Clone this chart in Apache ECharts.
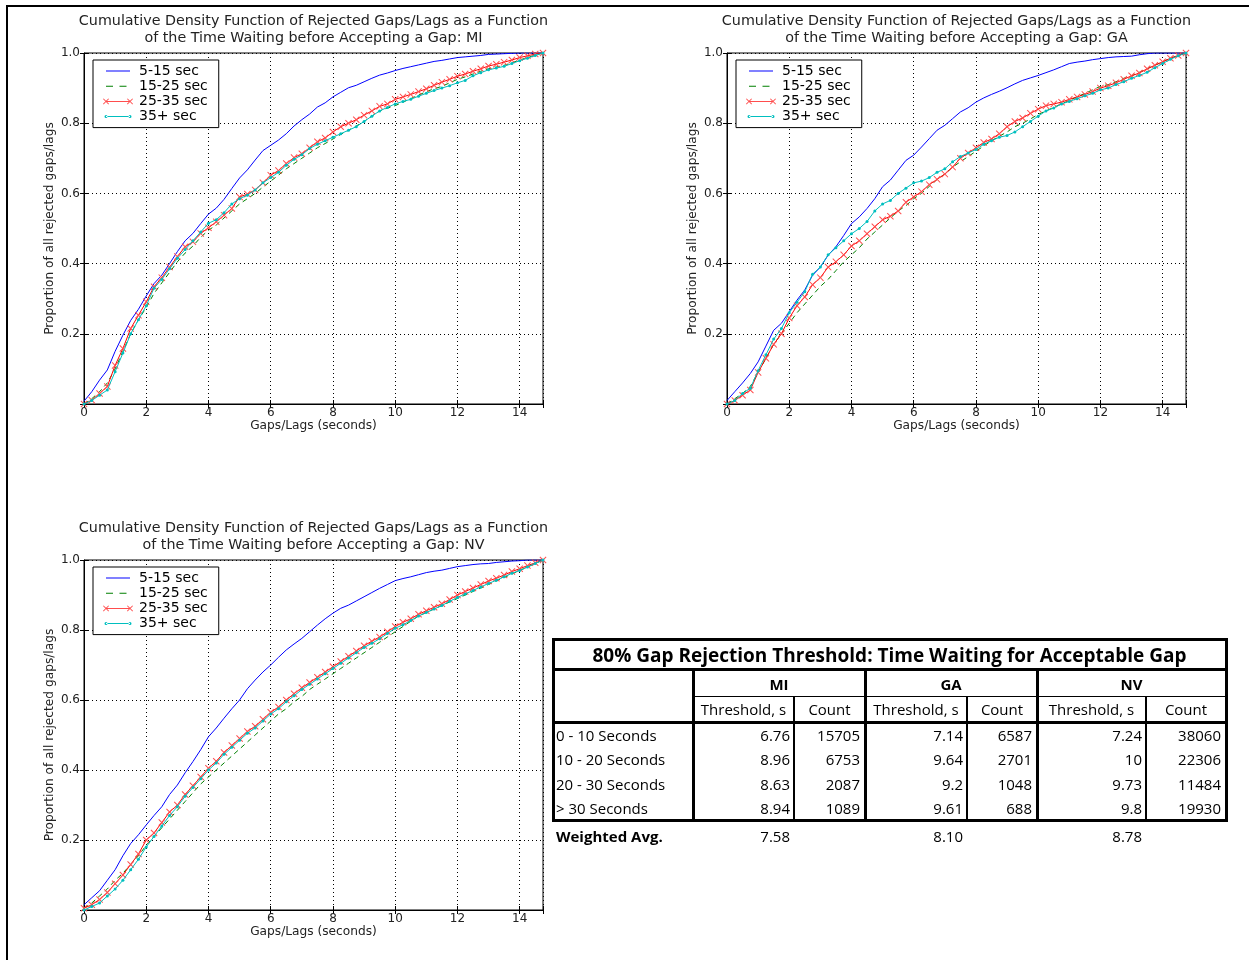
<!DOCTYPE html>
<html><head><meta charset="utf-8">
<script src="https://cdn.jsdelivr.net/npm/echarts@6/dist/echarts.min.js"></script>
<style>
html,body{margin:0;padding:0;background:#fff;}
#wrap{position:relative;width:1249px;height:960px;overflow:hidden;background:#fff;}
#frame{position:absolute;left:6px;top:5px;width:1243px;height:955px;border-top:2px solid #000;border-left:2px solid #000;}
#chart{position:absolute;left:0;top:0;width:1249px;height:960px;}
#tbl{position:absolute;left:0;top:0;width:1249px;height:960px;pointer-events:none;font-family:"Open Sans",sans-serif;color:#000;}
.ln{position:absolute;background:#000;}
.tx{position:absolute;white-space:nowrap;line-height:20px;height:20px;}
</style></head>
<body><div id="wrap"><div id="frame"></div><div id="chart"></div><div id="tbl"></div></div>
<script>
// ---------- DATA ----------
const seriesNames = ['5-15 sec', '15-25 sec', '25-35 sec', '35+ sec'];
const gapSeconds = [0,0.25,0.5,0.75,1,1.25,1.5,1.75,2,2.25,
  2.5,2.75,3,3.25,3.5,3.75,4,4.25,4.5,4.75,
  5,5.25,5.5,5.75,6,6.25,6.5,6.75,7,7.25,
  7.5,7.75,8,8.25,8.5,8.75,9,9.25,9.5,9.75,
  10,10.25,10.5,10.75,11,11.25,11.5,11.75,12,12.25,
  12.5,12.75,13,13.25,13.5,13.75,14,14.25,14.5,14.75];

const miBlue = [0.008,0.035,0.068,0.097,0.150,0.196,0.238,0.270,0.308,0.343,
  0.367,0.400,0.434,0.465,0.486,0.514,0.541,0.558,0.583,0.614,
  0.644,0.667,0.695,0.722,0.737,0.752,0.770,0.792,0.810,0.826,
  0.846,0.858,0.875,0.888,0.901,0.908,0.918,0.928,0.937,0.943,
  0.950,0.956,0.961,0.966,0.971,0.976,0.979,0.983,0.987,0.989,
  0.991,0.993,0.996,0.997,0.998,0.999,1.000,1.000,1.000,1.000];
const miGreen = [0.000,0.015,0.035,0.060,0.100,0.150,0.200,0.240,0.275,0.315,
  0.345,0.375,0.405,0.430,0.450,0.475,0.495,0.510,0.530,0.550,
  0.570,0.585,0.600,0.618,0.635,0.652,0.670,0.685,0.700,0.715,
  0.730,0.742,0.755,0.768,0.780,0.792,0.805,0.820,0.835,0.843,
  0.850,0.860,0.870,0.880,0.890,0.898,0.905,0.915,0.925,0.932,
  0.940,0.948,0.955,0.960,0.965,0.972,0.980,0.987,0.994,1.000];
const miRed = [0.000,0.011,0.030,0.050,0.110,0.158,0.215,0.253,0.291,0.334,
  0.360,0.390,0.420,0.448,0.462,0.486,0.502,0.519,0.538,0.557,
  0.590,0.598,0.610,0.630,0.652,0.665,0.685,0.702,0.713,0.730,
  0.747,0.758,0.775,0.790,0.800,0.810,0.823,0.835,0.848,0.855,
  0.868,0.875,0.882,0.890,0.898,0.908,0.917,0.925,0.934,0.940,
  0.948,0.955,0.963,0.968,0.974,0.980,0.987,0.992,0.997,1.000];
const miCyan = [0.000,0.010,0.025,0.040,0.092,0.145,0.200,0.240,0.280,0.330,
  0.355,0.385,0.415,0.440,0.465,0.490,0.515,0.525,0.545,0.570,
  0.585,0.595,0.610,0.630,0.645,0.660,0.680,0.697,0.710,0.728,
  0.740,0.750,0.760,0.770,0.780,0.790,0.805,0.820,0.835,0.845,
  0.855,0.862,0.868,0.877,0.885,0.893,0.900,0.907,0.915,0.922,
  0.935,0.944,0.952,0.957,0.962,0.970,0.978,0.985,0.993,1.000];

const gaBlue = [0.010,0.035,0.060,0.087,0.120,0.165,0.210,0.230,0.263,0.296,
  0.325,0.367,0.390,0.424,0.448,0.480,0.514,0.533,0.557,0.585,
  0.619,0.638,0.666,0.694,0.709,0.732,0.756,0.780,0.794,0.813,
  0.832,0.844,0.860,0.872,0.882,0.891,0.901,0.912,0.922,0.929,
  0.936,0.944,0.952,0.961,0.970,0.974,0.977,0.981,0.984,0.987,
  0.989,0.990,0.991,0.995,0.998,1.000,1.000,1.000,1.000,1.000];
const gaGreen = [0.000,0.015,0.030,0.050,0.090,0.130,0.170,0.200,0.230,0.260,
  0.285,0.310,0.335,0.355,0.380,0.405,0.425,0.445,0.470,0.490,
  0.510,0.530,0.550,0.565,0.585,0.600,0.620,0.640,0.655,0.675,
  0.690,0.705,0.720,0.735,0.750,0.763,0.775,0.790,0.800,0.812,
  0.825,0.835,0.845,0.855,0.865,0.875,0.885,0.895,0.905,0.910,
  0.918,0.928,0.935,0.945,0.955,0.965,0.975,0.985,0.993,1.000];
const gaRed = [0.000,0.010,0.025,0.040,0.090,0.130,0.170,0.200,0.245,0.280,
  0.305,0.340,0.360,0.390,0.405,0.425,0.450,0.465,0.485,0.505,
  0.525,0.535,0.550,0.575,0.590,0.605,0.625,0.640,0.655,0.675,
  0.700,0.715,0.730,0.745,0.755,0.770,0.790,0.805,0.815,0.828,
  0.840,0.850,0.855,0.860,0.868,0.875,0.882,0.890,0.900,0.907,
  0.915,0.925,0.935,0.943,0.955,0.965,0.975,0.985,0.993,1.000];
const gaCyan = [0.000,0.010,0.030,0.045,0.095,0.140,0.185,0.215,0.260,0.290,
  0.320,0.370,0.390,0.425,0.445,0.465,0.485,0.500,0.520,0.550,
  0.570,0.580,0.600,0.615,0.630,0.635,0.645,0.660,0.670,0.690,
  0.705,0.715,0.725,0.740,0.750,0.760,0.765,0.775,0.790,0.805,
  0.820,0.835,0.843,0.855,0.862,0.870,0.878,0.885,0.895,0.900,
  0.910,0.918,0.928,0.936,0.945,0.958,0.970,0.982,0.992,1.000];

const nvBlue = [0.015,0.035,0.055,0.085,0.115,0.155,0.190,0.215,0.243,0.270,
  0.295,0.330,0.357,0.392,0.424,0.458,0.495,0.520,0.548,0.575,
  0.600,0.632,0.657,0.680,0.700,0.722,0.743,0.760,0.776,0.795,
  0.814,0.832,0.848,0.862,0.871,0.883,0.895,0.907,0.919,0.930,
  0.941,0.947,0.952,0.958,0.964,0.968,0.971,0.976,0.981,0.984,
  0.987,0.989,0.990,0.993,0.995,0.997,0.998,1.000,1.000,1.000];
const nvGreen = [0.005,0.020,0.040,0.060,0.085,0.105,0.130,0.155,0.185,0.210,
  0.235,0.260,0.285,0.310,0.335,0.360,0.380,0.400,0.420,0.440,
  0.460,0.480,0.500,0.520,0.540,0.560,0.575,0.595,0.610,0.630,
  0.645,0.660,0.675,0.690,0.705,0.720,0.735,0.750,0.765,0.780,
  0.795,0.810,0.825,0.840,0.850,0.860,0.870,0.880,0.890,0.900,
  0.910,0.920,0.930,0.940,0.950,0.960,0.970,0.980,0.990,1.000];
const nvRed = [0.005,0.015,0.030,0.050,0.075,0.100,0.130,0.160,0.200,0.220,
  0.250,0.280,0.300,0.330,0.355,0.380,0.405,0.425,0.450,0.470,
  0.490,0.510,0.525,0.545,0.565,0.580,0.600,0.618,0.635,0.650,
  0.665,0.680,0.695,0.710,0.725,0.740,0.755,0.768,0.780,0.795,
  0.810,0.822,0.832,0.845,0.855,0.865,0.875,0.887,0.900,0.910,
  0.920,0.930,0.940,0.948,0.957,0.967,0.975,0.984,0.992,1.000];
const nvCyan = [0.000,0.010,0.020,0.040,0.060,0.085,0.115,0.145,0.180,0.210,
  0.240,0.270,0.295,0.325,0.350,0.375,0.400,0.420,0.445,0.465,
  0.485,0.505,0.520,0.540,0.560,0.575,0.595,0.612,0.630,0.645,
  0.660,0.675,0.690,0.705,0.720,0.735,0.750,0.762,0.775,0.790,
  0.805,0.815,0.827,0.840,0.850,0.860,0.870,0.882,0.893,0.903,
  0.913,0.923,0.933,0.942,0.952,0.962,0.970,0.980,0.990,1.000];

const xTicks = [0, 2, 4, 6, 8, 10, 12, 14];
const yTicks = [0.2, 0.4, 0.6, 0.8, 1.0];

// table data
const tableTitle = '80% Gap Rejection Threshold: Time Waiting for Acceptable Gap';
const states = ['MI', 'GA', 'NV'];
const subHeaders = ['Threshold, s', 'Count'];
const rowLabels = ['0 - 10 Seconds', '10 - 20 Seconds', '20 - 30 Seconds', '> 30 Seconds'];
const miThreshold = ['6.76', '8.96', '8.63', '8.94'];
const miCount = ['15705', '6753', '2087', '1089'];
const gaThreshold = ['7.14', '9.64', '9.2', '9.61'];
const gaCount = ['6587', '2701', '1048', '688'];
const nvThreshold = ['7.24', '10', '9.73', '9.8'];
const nvCount = ['38060', '22306', '11484', '19930'];
const weightedLabel = 'Weighted Avg.';
const weightedAvg = ['7.58', '8.10', '8.78'];

// ---------- CHARTS ----------
const FONT = 'DejaVu Sans';
const titleBase = 'Cumulative Density Function of Rejected Gaps/Lags as a Function\nof the Time Waiting before Accepting a Gap: ';
const panels = [
  { state: 'MI', grid: {left: 84, top: 53, width: 459, height: 351}, titleY: 13, legend: {left: 93, top: 60}, data: [miBlue, miGreen, miRed, miCyan] },
  { state: 'GA', grid: {left: 727, top: 53, width: 459, height: 351}, titleY: 13, legend: {left: 736, top: 60}, data: [gaBlue, gaGreen, gaRed, gaCyan] },
  { state: 'NV', grid: {left: 84, top: 560, width: 459, height: 350}, titleY: 520, legend: {left: 93, top: 567}, data: [nvBlue, nvGreen, nvRed, nvCyan] }
];
function xShape(cx, cy, s) {
  const p = [[1,0],[5,4],[9,0],[10,1],[6,5],[10,9],[9,10],[5,6],[1,10],[0,9],[4,5],[0,1]];
  return 'M' + p.map(([a, b]) => (cx - s + a * s / 5).toFixed(2) + ',' + (cy - s + b * s / 5).toFixed(2)).join('L') + 'Z';
}
function dot(cx, cy, r) {
  return 'M' + (cx - r) + ',' + cy + 'a' + r + ',' + r + ' 0 1,0 ' + (2 * r) + ',0a' + r + ',' + r + ' 0 1,0 ' + (-2 * r) + ',0Z';
}
const ends = 'M0,4L0,4M30,4L30,4';
const legendIcons = [
  'path://' + ends + 'M3,3.5h24v1h-24z',
  'path://' + ends + 'M3,3.5h7v1h-7zM16.5,3.5h7v1h-7z',
  'path://' + ends + 'M3,3.5h24v1h-24z' + xShape(3, 4, 3) + xShape(27, 4, 3),
  'path://' + ends + 'M3,3.5h24v1h-24z' + dot(3, 4, 1.5) + dot(27, 4, 1.5)
];
const xPath = 'path://M1,0L5,4L9,0L10,1L6,5L10,9L9,10L5,6L1,10L0,9L4,5L0,1Z';
const styles = [
  { symbol: 'none', lineStyle: {color: '#0000ff', width: 1}, itemStyle: {color: '#0000ff'} },
  { symbol: 'none', lineStyle: {color: '#008000', width: 1, type: [5, 4]}, itemStyle: {color: '#008000'} },
  { symbol: xPath, symbolSize: 7, lineStyle: {color: '#ff0000', width: 1}, itemStyle: {color: '#ff4d4d'} },
  { symbol: 'circle', symbolSize: 3, lineStyle: {color: '#00bfbf', width: 1}, itemStyle: {color: '#00bfbf'} }
];

const option = {
  animation: false,
  backgroundColor: 'transparent',
  grid: [], xAxis: [], yAxis: [], series: [], legend: [], graphic: []
};
const axisLineStyle = {show: true, onZero: false, lineStyle: {color: '#000', width: 1}};
const tickStyle = {show: true, inside: true, length: 4, lineStyle: {color: '#000'}};
panels.forEach((p, i) => {
  option.grid.push(Object.assign({show: true, borderColor: '#000', borderWidth: 1, backgroundColor: 'transparent', containLabel: false}, p.grid));
  option.xAxis.push({
    gridIndex: i, type: 'value', position: 'bottom', min: 0, max: 14.75, interval: 2,
    name: 'Gaps/Lags (seconds)', nameLocation: 'middle', nameGap: 16,
    nameTextStyle: {fontFamily: FONT, fontSize: 12.2, color: '#222'},
    axisLine: axisLineStyle, axisTick: tickStyle,
    axisLabel: {fontFamily: FONT, fontSize: 12, color: '#222', margin: 2.5,
      formatter: v => (xTicks.indexOf(v) >= 0 ? String(v) : '')},
    splitLine: {show: true, lineStyle: {color: '#000', width: 1, type: [1, 3]}}
  });
  option.yAxis.push({
    gridIndex: i, type: 'value', position: 'left', min: 0, max: 1, interval: 0.2,
    name: 'Proportion of all rejected gaps/lags', nameLocation: 'middle', nameGap: 28,
    nameTextStyle: {fontFamily: FONT, fontSize: 12.2, color: '#222'},
    axisLine: axisLineStyle, axisTick: tickStyle,
    axisLabel: {fontFamily: FONT, fontSize: 12, color: '#222', margin: 4,
      formatter: v => { const r = Math.round(v * 10) / 10; return yTicks.indexOf(r) >= 0 ? r.toFixed(1) : ''; }},
    splitLine: {show: true, lineStyle: {color: '#000', width: 1, type: [1, 3]}}
  });
  p.data.forEach((vals, k) => {
    option.series.push(Object.assign({
      type: 'line', name: seriesNames[k], xAxisIndex: i, yAxisIndex: i,
      data: gapSeconds.map((x, j) => [x, vals[j]]),
      silent: true, z: 2 + k
    }, styles[k]));
  });
  option.legend.push({
    data: seriesNames.map((n, k) => ({name: n, icon: legendIcons[k]})),
    orient: 'vertical', left: p.legend.left, top: p.legend.top,
    backgroundColor: '#fff', borderColor: '#000', borderWidth: 1, borderRadius: 0,
    padding: [4, 11, 4, 10], itemWidth: 30, itemHeight: 8, itemGap: 1.2,
    symbolKeepAspect: true, selectedMode: false,
    itemStyle: {borderWidth: 0},
    textStyle: {fontFamily: FONT, fontSize: 14, color: '#000', lineHeight: 14, padding: [0, 0, 0, 1]}
  });
  option.graphic.push({
    type: 'text', x: p.grid.left + p.grid.width / 2, y: p.titleY, silent: true,
    style: {text: titleBase + p.state, align: 'center', verticalAlign: 'top',
      fontFamily: FONT, fontSize: 14.3, lineHeight: 17, fill: '#222'}
  });
});
// mirrored tick marks on the top and right edges (matplotlib style)
panels.forEach((p, i) => {
  option.xAxis.push({
    gridIndex: i, type: 'value', position: 'top', min: 0, max: 14.75, interval: 2,
    axisLine: {show: false}, axisTick: tickStyle, axisLabel: {show: false}, splitLine: {show: false}
  });
  option.yAxis.push({
    gridIndex: i, type: 'value', position: 'right', min: 0, max: 1, interval: 0.2,
    axisLine: {show: false}, axisTick: tickStyle, axisLabel: {show: false}, splitLine: {show: false}
  });
});

const chart = echarts.init(document.getElementById('chart'), null, {renderer: 'canvas'});
chart.setOption(option);

// ---------- TABLE ----------
const T = document.getElementById('tbl');
function hline(x1, x2, y, t) {
  const d = document.createElement('div'); d.className = 'ln';
  Object.assign(d.style, {left: x1 + 'px', top: (y - t / 2) + 'px', width: (x2 - x1) + 'px', height: t + 'px'});
  T.appendChild(d);
}
function vline(x, y1, y2, t) {
  const d = document.createElement('div'); d.className = 'ln';
  Object.assign(d.style, {left: (x - t / 2) + 'px', top: y1 + 'px', width: t + 'px', height: (y2 - y1) + 'px'});
  T.appendChild(d);
}
function txt(s, x, cy, align, size, bold) {
  const d = document.createElement('div'); d.className = 'tx'; d.textContent = s;
  const w = 900;
  const left = align === 'left' ? x : (align === 'center' ? x - w / 2 : x - w);
  Object.assign(d.style, {left: left + 'px', top: (cy - 10) + 'px', width: w + 'px', textAlign: align,
    fontSize: size + 'px', fontWeight: bold ? 'bold' : 'normal'});
  T.appendChild(d);
}
const colX = [553, 693, 794, 865, 967, 1037, 1146, 1226];
const yTop = 639, yTitleB = 669, yHdrB = 696, yHead2B = 722, yDataB = 820;
hline(551.5, 1227.5, yTop, 3);
hline(551.5, 1227.5, yTitleB, 3);
hline(693, 1227.5, yHdrB, 1);
hline(551.5, 1227.5, yHead2B, 3);
hline(551.5, 1227.5, yDataB, 3);
vline(colX[0], yTop - 1.5, yDataB + 1.5, 3);
vline(colX[7], yTop - 1.5, yDataB + 1.5, 3);
[1, 3, 5].forEach(c => vline(colX[c], yTitleB, yDataB, 3));
[2, 4, 6].forEach(c => vline(colX[c], yHdrB, yDataB, 2));

const BODY = 15, HEAD = 15, TITLE = 19;
txt(tableTitle, (colX[0] + colX[7]) / 2, 655, 'center', TITLE, true);
const thr = [miThreshold, gaThreshold, nvThreshold];
const cnt = [miCount, gaCount, nvCount];
const rowY = [734.5, 759, 783.5, 808];
states.forEach((s, g) => {
  const a = colX[1 + 2 * g], b = colX[2 + 2 * g], c = colX[3 + 2 * g];
  txt(s, (a + c) / 2, 683.5, 'center', HEAD, true);
  txt(subHeaders[0], (a + b) / 2, 708.5, 'center', BODY, false);
  txt(subHeaders[1], (b + c) / 2, 708.5, 'center', BODY, false);
  rowY.forEach((y, r) => {
    txt(thr[g][r], b - 4, y, 'right', BODY, false);
    txt(cnt[g][r], c - 5, y, 'right', BODY, false);
  });
  txt(weightedAvg[g], b - 4, 836, 'right', BODY, false);
});
rowLabels.forEach((l, r) => txt(l, 556, rowY[r], 'left', BODY, false));
txt(weightedLabel, 556, 836, 'left', BODY, true);
</script></body></html>
